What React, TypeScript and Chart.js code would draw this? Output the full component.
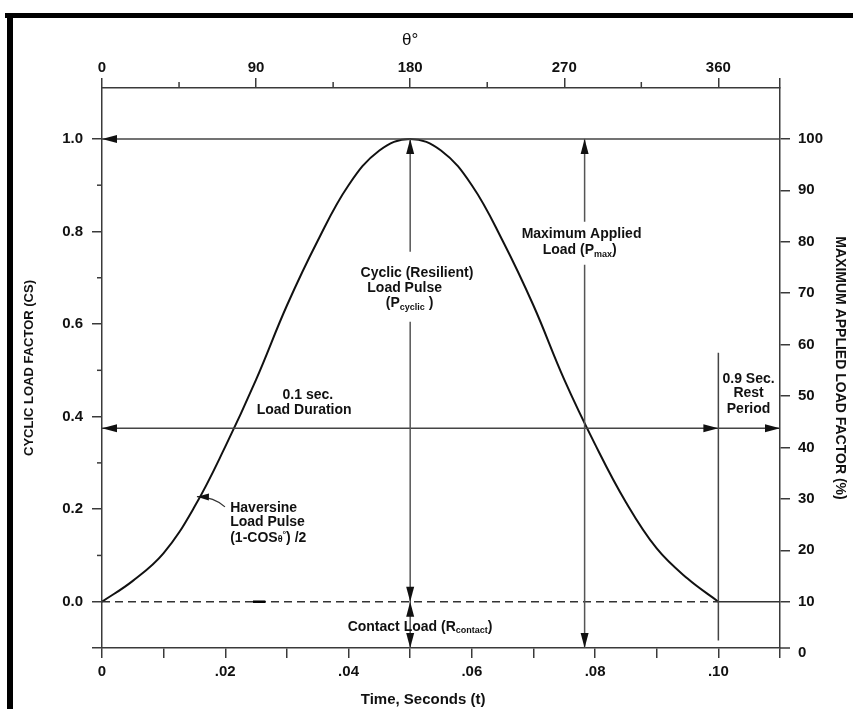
import React, { useEffect, useRef } from 'react';
import { Chart, registerables } from 'chart.js';

Chart.register(...registerables);

// ---- data ----
const timeSec = [0, 0.005, 0.01, 0.015, 0.02, 0.025, 0.03, 0.035, 0.04, 0.045, 0.05,
  0.055, 0.06, 0.065, 0.07, 0.075, 0.08, 0.085, 0.09, 0.095, 0.1];
const cyclicLoad = [0, 0.045, 0.105, 0.205, 0.335, 0.48, 0.64, 0.78, 0.9, 0.975, 1.0,
  0.975, 0.9, 0.78, 0.64, 0.48, 0.34, 0.215, 0.115, 0.05, 0];

const timeRange = [0, 0.11];
const timeTickValues = [0, 0.01, 0.02, 0.03, 0.04, 0.05, 0.06, 0.07, 0.08, 0.09, 0.1, 0.11];
const timeTickLabels = ['0', '', '.02', '', '.04', '', '.06', '', '.08', '', '.10', ''];

const thetaRange = [0, 396];
const thetaMajorTicks = [0, 90, 180, 270, 360, 396];
const thetaTickLabels = ['0', '90', '180', '270', '360', ''];
const thetaMinorTicks = [45, 135, 225, 315];

const csRange = [-0.1, 1.11];
const csMajorTicks = [-0.1, 0, 0.2, 0.4, 0.6, 0.8, 1.0];
const csTickLabels = ['', '0.0', '0.2', '0.4', '0.6', '0.8', '1.0'];
const csMinorTicks = [0.1, 0.3, 0.5, 0.7, 0.9];

const pctTicks = [0, 10, 20, 30, 40, 50, 60, 70, 80, 90, 100];
const contactPct = 10;
const cyclicPctSpan = 90;

// annotation anchors (data units)
const peakTime = 0.05;
const pmaxTime = 0.0783;
const pulseEnd = 0.1;
const peakLevel = 1.0;
const contactLevel = 0;
const durationLevel = 0.375;
const pcyclicGap = [0.605, 0.756];
const pmaxGap = [0.728, 0.821];
const restLine = [-0.084, 0.538];
const zeroLineMark = [0.0245, 0.0265];
const haversineLeader = { start: [0.01995, 0.205], ctrl: [0.0182, 0.226], tip: [0.0154, 0.227] };
const timeTitleAt = 0.0521;
const thetaTitleAt = 180;

type Part = { text: string; small?: boolean; dy?: number };
type Note = { t: number; v: number; parts: Part[]; align?: 'center' | 'left' };

const notes: Note[] = [
  { t: 0.0511, v: 0.711, parts: [{ text: 'Cyclic (Resilient)' }] },
  { t: 0.0491, v: 0.678, parts: [{ text: 'Load Pulse' }] },
  { t: 0.0499, v: 0.646, parts: [{ text: '(P' }, { text: 'cyclic', small: true, dy: 3 }, { text: ' )' }] },
  { t: 0.0778, v: 0.795, parts: [{ text: 'Maximum Applied' }] },
  { t: 0.0775, v: 0.760, parts: [{ text: 'Load (P' }, { text: 'max', small: true, dy: 3 }, { text: ')' }] },
  { t: 0.0334, v: 0.447, parts: [{ text: '0.1 sec.' }] },
  { t: 0.0328, v: 0.415, parts: [{ text: 'Load Duration' }] },
  { t: 0.1049, v: 0.482, parts: [{ text: '0.9 Sec.' }] },
  { t: 0.1049, v: 0.451, parts: [{ text: 'Rest' }] },
  { t: 0.1049, v: 0.417, parts: [{ text: 'Period' }] },
  { t: 0.0208, v: 0.203, parts: [{ text: 'Haversine' }], align: 'left' },
  { t: 0.0208, v: 0.171, parts: [{ text: 'Load Pulse' }], align: 'left' },
  { t: 0.0208, v: 0.138, parts: [{ text: '(1-COS' }, { text: 'θ', small: true }, { text: '°', small: true, dy: -5 }, { text: ') /2' }], align: 'left' },
  { t: 0.0516, v: -0.054, parts: [{ text: 'Contact Load (R' }, { text: 'contact', small: true, dy: 2 }, { text: ')' }] },
];

const FAMILY = "'Liberation Sans', Arial, Helvetica, sans-serif";
const INK = '#111';
const AXIS = '#3a3a3a';
const GUIDE = '#555';

function seg(ctx: CanvasRenderingContext2D, x1: number, y1: number, x2: number, y2: number, color = GUIDE, w = 1.5, dash: number[] = []) {
  ctx.save();
  ctx.strokeStyle = color;
  ctx.lineWidth = w;
  ctx.setLineDash(dash);
  ctx.beginPath();
  ctx.moveTo(x1, y1);
  ctx.lineTo(x2, y2);
  ctx.stroke();
  ctx.restore();
}

function arrowHead(ctx: CanvasRenderingContext2D, x: number, y: number, ang: number, len = 15, half = 4) {
  const bx = x - Math.cos(ang) * len;
  const by = y - Math.sin(ang) * len;
  const nx = -Math.sin(ang) * half;
  const ny = Math.cos(ang) * half;
  ctx.save();
  ctx.fillStyle = INK;
  ctx.beginPath();
  ctx.moveTo(x, y);
  ctx.lineTo(bx + nx, by + ny);
  ctx.lineTo(bx - nx, by - ny);
  ctx.closePath();
  ctx.fill();
  ctx.restore();
}

const UP = -Math.PI / 2, DOWN = Math.PI / 2, LEFT = Math.PI, RIGHT = 0;

function drawRich(ctx: CanvasRenderingContext2D, parts: Part[], x: number, y: number, align: 'center' | 'left') {
  const big = `bold 14px ${FAMILY}`;
  const small = `bold 9px ${FAMILY}`;
  let total = 0;
  const widths = parts.map(p => {
    ctx.font = p.small ? small : big;
    const w = ctx.measureText(p.text).width;
    total += w;
    return w;
  });
  let cx = align === 'center' ? x - total / 2 : x;
  ctx.save();
  ctx.fillStyle = INK;
  ctx.textBaseline = 'middle';
  ctx.textAlign = 'left';
  parts.forEach((p, i) => {
    ctx.font = p.small ? small : big;
    ctx.fillText(p.text, cx, y + (p.dy || 0) + (p.small ? 2 : 0));
    cx += widths[i];
  });
  ctx.restore();
}

const diagramPlugin = {
  id: 'diagram',
  beforeDraw(chart: any) {
    const ctx = chart.ctx as CanvasRenderingContext2D;
    ctx.save();
    ctx.fillStyle = '#fff';
    ctx.fillRect(0, 0, chart.width, chart.height);
    ctx.fillStyle = '#000';
    ctx.fillRect(5, 13, chart.width - 5, 5);
    ctx.fillRect(7, 13, 6, chart.height - 13);
    ctx.restore();
  },
  afterDraw(chart: any) {
    const ctx = chart.ctx as CanvasRenderingContext2D;
    const xs = chart.scales.x, ys = chart.scales.y, ts = chart.scales.x2;
    const area = chart.chartArea;
    const X = (t: number) => xs.getPixelForValue(t);
    const Y = (v: number) => ys.getPixelForValue(v);

    // axis titles (horizontal ones, placed off-centre as in the original)
    ctx.save();
    ctx.fillStyle = INK;
    ctx.textAlign = 'center';
    ctx.textBaseline = 'middle';
    ctx.font = `bold 15px ${FAMILY}`;
    ctx.fillText('Time, Seconds (t)', X(timeTitleAt), area.bottom + 52);
    ctx.font = `17px ${FAMILY}`;
    ctx.fillText('θ°', ts.getPixelForValue(thetaTitleAt), area.top - 48);
    ctx.restore();

    // minor ticks
    thetaMinorTicks.forEach(th => {
      const p = ts.getPixelForValue(th);
      seg(ctx, p, area.top, p, area.top - 6, AXIS, 1.5);
    });
    csMinorTicks.forEach(v => {
      const p = Y(v);
      seg(ctx, area.left - 5, p, area.left, p, AXIS, 1.5);
    });
    // right-axis 0 tick at the corner
    seg(ctx, area.right, area.bottom, area.right + 10, area.bottom, AXIS, 1.5);

    // zero (contact) line
    seg(ctx, X(timeRange[0]), Y(contactLevel), X(pulseEnd), Y(contactLevel), '#333', 1.5, [8, 5]);
    seg(ctx, X(pulseEnd), Y(contactLevel), X(timeRange[1]), Y(contactLevel), '#333', 1.5);
    seg(ctx, X(zeroLineMark[0]), Y(contactLevel), X(zeroLineMark[1]), Y(contactLevel), '#000', 2.5);

    // peak level line
    seg(ctx, X(timeRange[0]), Y(peakLevel), X(timeRange[1]), Y(peakLevel), '#444', 1.5);
    arrowHead(ctx, X(timeRange[0]), Y(peakLevel), LEFT);

    // load duration line
    seg(ctx, X(timeRange[0]), Y(durationLevel), X(timeRange[1]), Y(durationLevel), '#444', 1.5);
    arrowHead(ctx, X(timeRange[0]), Y(durationLevel), LEFT);
    arrowHead(ctx, X(pulseEnd), Y(durationLevel), RIGHT);
    arrowHead(ctx, X(timeRange[1]), Y(durationLevel), RIGHT);

    // rest-period marker line
    seg(ctx, X(pulseEnd), Y(restLine[1]), X(pulseEnd), Y(restLine[0]), '#444', 1.5);

    // P cyclic line
    const xc = X(peakTime);
    seg(ctx, xc, Y(peakLevel), xc, Y(pcyclicGap[1]), GUIDE, 1.5);
    seg(ctx, xc, Y(pcyclicGap[0]), xc, Y(csRange[0]), GUIDE, 1.5);
    arrowHead(ctx, xc, Y(peakLevel), UP);
    arrowHead(ctx, xc, Y(contactLevel), DOWN);
    arrowHead(ctx, xc, Y(contactLevel), UP);
    arrowHead(ctx, xc, Y(csRange[0]), DOWN);

    // P max line
    const xm = X(pmaxTime);
    seg(ctx, xm, Y(peakLevel), xm, Y(pmaxGap[1]), GUIDE, 1.5);
    seg(ctx, xm, Y(pmaxGap[0]), xm, Y(csRange[0]), GUIDE, 1.5);
    arrowHead(ctx, xm, Y(peakLevel), UP);
    arrowHead(ctx, xm, Y(csRange[0]), DOWN);

    // haversine leader
    const s = haversineLeader.start, c = haversineLeader.ctrl, tp = haversineLeader.tip;
    ctx.save();
    ctx.strokeStyle = '#333';
    ctx.lineWidth = 1.2;
    ctx.beginPath();
    ctx.moveTo(X(s[0]), Y(s[1]));
    ctx.quadraticCurveTo(X(c[0]), Y(c[1]), X(tp[0]), Y(tp[1]));
    ctx.stroke();
    ctx.restore();
    const ang = Math.atan2(Y(tp[1]) - Y(c[1]), X(tp[0]) - X(c[0]));
    arrowHead(ctx, X(tp[0]), Y(tp[1]), ang, 12, 3.5);

    // text notes
    notes.forEach(n => drawRich(ctx, n.parts, X(n.t), Y(n.v), n.align || 'center'));
  },
};

const tickFont = { family: FAMILY, size: 15, weight: 'bold' as const };

export default function App() {
  const ref = useRef<HTMLCanvasElement | null>(null);

  useEffect(() => {
    document.body.style.margin = '0';
    const canvas = ref.current;
    if (!canvas) return;
    const axisGrid = {
      drawOnChartArea: false,
      tickLength: 10,
      color: AXIS,
      tickColor: AXIS,
      lineWidth: 1.5,
      tickWidth: 1.5,
    };
    const border = { display: true, color: AXIS, width: 1.5 };
    const chart = new Chart(canvas, {
      type: 'line',
      data: {
        datasets: [
          {
            label: 'Haversine load pulse',
            data: timeSec.map((t, i) => ({ x: t, y: cyclicLoad[i] })),
            borderColor: '#111',
            borderWidth: 2,
            pointRadius: 0,
            fill: false,
            tension: 0.4,
            xAxisID: 'x',
            yAxisID: 'y',
          },
        ],
      },
      options: {
        animation: false,
        responsive: false,
        devicePixelRatio: 1,
        layout: { padding: 0 },
        plugins: { legend: { display: false }, tooltip: { enabled: false } },
        scales: {
          x: {
            type: 'linear',
            position: 'bottom',
            min: timeRange[0],
            max: timeRange[1],
            afterBuildTicks: (s: any) => { s.ticks = timeTickValues.map(v => ({ value: v })); },
            afterFit: (s: any) => { s.height = 61; },
            ticks: {
              autoSkip: false, maxRotation: 0, padding: 5, color: INK, font: tickFont,
              callback: (_v: any, i: number) => timeTickLabels[i],
            },
            grid: axisGrid,
            border,
          },
          x2: {
            type: 'linear',
            position: 'top',
            display: true,
            min: thetaRange[0],
            max: thetaRange[1],
            afterBuildTicks: (s: any) => { s.ticks = thetaMajorTicks.map(v => ({ value: v })); },
            afterFit: (s: any) => { s.height = 88; },
            ticks: {
              autoSkip: false, maxRotation: 0, padding: 1, color: INK, font: tickFont,
              callback: (_v: any, i: number) => thetaTickLabels[i],
            },
            grid: axisGrid,
            border,
          },
          y: {
            type: 'linear',
            position: 'left',
            min: csRange[0],
            max: csRange[1],
            afterBuildTicks: (s: any) => { s.ticks = csMajorTicks.map(v => ({ value: v })); },
            afterFit: (s: any) => { s.width = 102; },
            ticks: {
              autoSkip: false, padding: 9, color: INK, font: tickFont,
              callback: (_v: any, i: number) => csTickLabels[i],
            },
            grid: axisGrid,
            border,
            title: {
              display: true, text: 'CYCLIC LOAD FACTOR (CS)', color: INK,
              font: { family: FAMILY, size: 13, weight: 'bold' }, padding: { top: 22, bottom: 0 },
            },
          },
          y1: {
            type: 'linear',
            position: 'right',
            display: true,
            min: contactPct + cyclicPctSpan * csRange[0],
            max: contactPct + cyclicPctSpan * csRange[1],
            afterBuildTicks: (s: any) => { s.ticks = pctTicks.map(v => ({ value: v })); },
            afterFit: (s: any) => { s.width = 73; },
            ticks: {
              autoSkip: false, padding: 8, color: INK, font: tickFont,
              callback: (v: any) => String(v),
            },
            grid: {
              ...axisGrid,
              tickColor: (c: any) => (c.tick && c.tick.value === 0 ? 'rgba(0,0,0,0)' : AXIS),
            },
            border,
            title: {
              display: true, text: 'MAXIMUM APPLIED LOAD FACTOR (%)', color: INK,
              font: { family: FAMILY, size: 14, weight: 'bold' }, padding: { top: 4.6, bottom: 0 },
            },
          },
        },
      } as any,
      plugins: [diagramPlugin],
    });
    return () => chart.destroy();
  }, []);

  return <canvas ref={ref} width={853} height={709} style={{ display: 'block' }} />;
}
